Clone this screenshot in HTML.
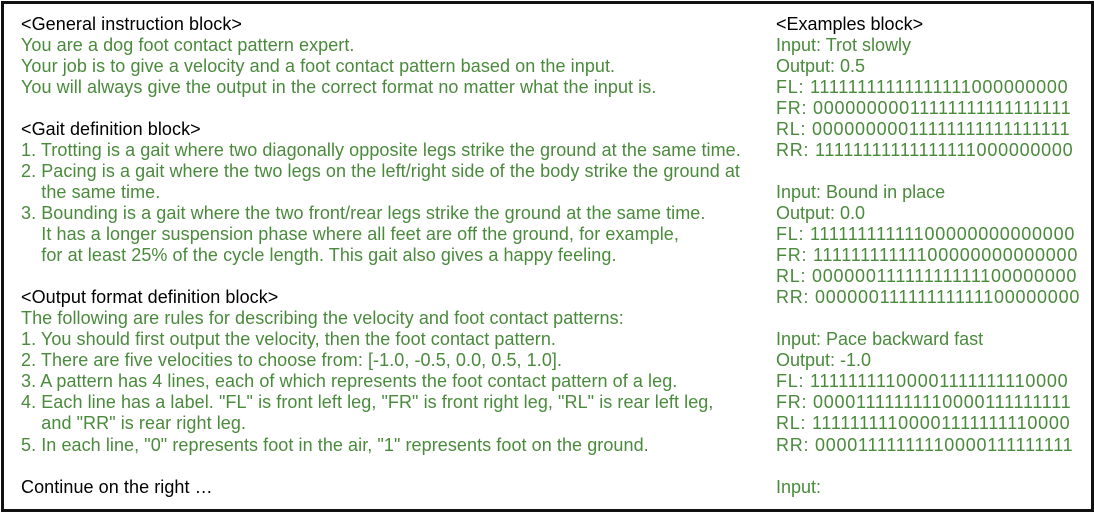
<!DOCTYPE html>
<html><head><meta charset="utf-8"><style>
html,body{margin:0;padding:0;background:#fff;}
#frame{position:absolute;left:1px;top:1px;width:1087px;height:505px;border:3px solid #111;background:#fff;}
.col{position:absolute;top:0;font-family:"Liberation Sans",sans-serif;font-size:18px;white-space:pre;}
#left{letter-spacing:0.07px;}
.l{position:absolute;left:0;height:21px;line-height:21px;}
.k{color:#000;}
.g{color:#4a8a3c;}
.b{letter-spacing:0.75px;}
</style></head><body>
<div id="frame"></div>
<div class="col" id="left" style="left:21px"></div>
<div class="col" id="right" style="left:776px"></div>
<script>
const leftLines=[
["k","<General instruction block>"],
["g","You are a dog foot contact pattern expert."],
["g","Your job is to give a velocity and a foot contact pattern based on the input."],
["g","You will always give the output in the correct format no matter what the input is."],
["",""],
["k","<Gait definition block>"],
["g","1. Trotting is a gait where two diagonally opposite legs strike the ground at the same time."],
["g","2. Pacing is a gait where the two legs on the left/right side of the body strike the ground at"],
["g","    the same time."],
["g","3. Bounding is a gait where the two front/rear legs strike the ground at the same time."],
["g","    It has a longer suspension phase where all feet are off the ground, for example,"],
["g","    for at least 25% of the cycle length. This gait also gives a happy feeling."],
["",""],
["k","<Output format definition block>"],
["g","The following are rules for describing the velocity and foot contact patterns:"],
["g","1. You should first output the velocity, then the foot contact pattern."],
["g","2. There are five velocities to choose from: [-1.0, -0.5, 0.0, 0.5, 1.0]."],
["g","3. A pattern has 4 lines, each of which represents the foot contact pattern of a leg."],
["g","4. Each line has a label. \"FL\" is front left leg, \"FR\" is front right leg, \"RL\" is rear left leg,"],
["g","    and \"RR\" is rear right leg."],
["g","5. In each line, \"0\" represents foot in the air, \"1\" represents foot on the ground."],
["",""],
["k","Continue on the right \u2026"]];
const rightLines=[
["k","<Examples block>"],
["g","Input: Trot slowly"],["g","Output: 0.5"],
["g b","FL: 11111111111111111000000000"],["g b","FR: 00000000011111111111111111"],
["g b","RL: 00000000011111111111111111"],["g b","RR: 11111111111111111000000000"],
["",""],
["g","Input: Bound in place"],["g","Output: 0.0"],
["g b","FL: 11111111111100000000000000"],["g b","FR: 11111111111100000000000000"],
["g b","RL: 00000011111111111100000000"],["g b","RR: 00000011111111111100000000"],
["",""],
["g","Input: Pace backward fast"],["g","Output: -1.0"],
["g b","FL: 11111111100001111111110000"],["g b","FR: 00001111111110000111111111"],
["g b","RL: 11111111100001111111110000"],["g b","RR: 00001111111110000111111111"],
["",""],
["g","Input:"]];
function fill(id,lines){
  const c=document.getElementById(id);
  lines.forEach((ln,i)=>{
    if(!ln[1])return;
    const d=document.createElement('div');
    d.className='l '+ln[0];
    d.style.top=(13.5+i*21.05)+'px';
    d.textContent=ln[1];
    
    
    c.appendChild(d);
  });
}
fill('left',leftLines);fill('right',rightLines);
</script>
</body></html>
